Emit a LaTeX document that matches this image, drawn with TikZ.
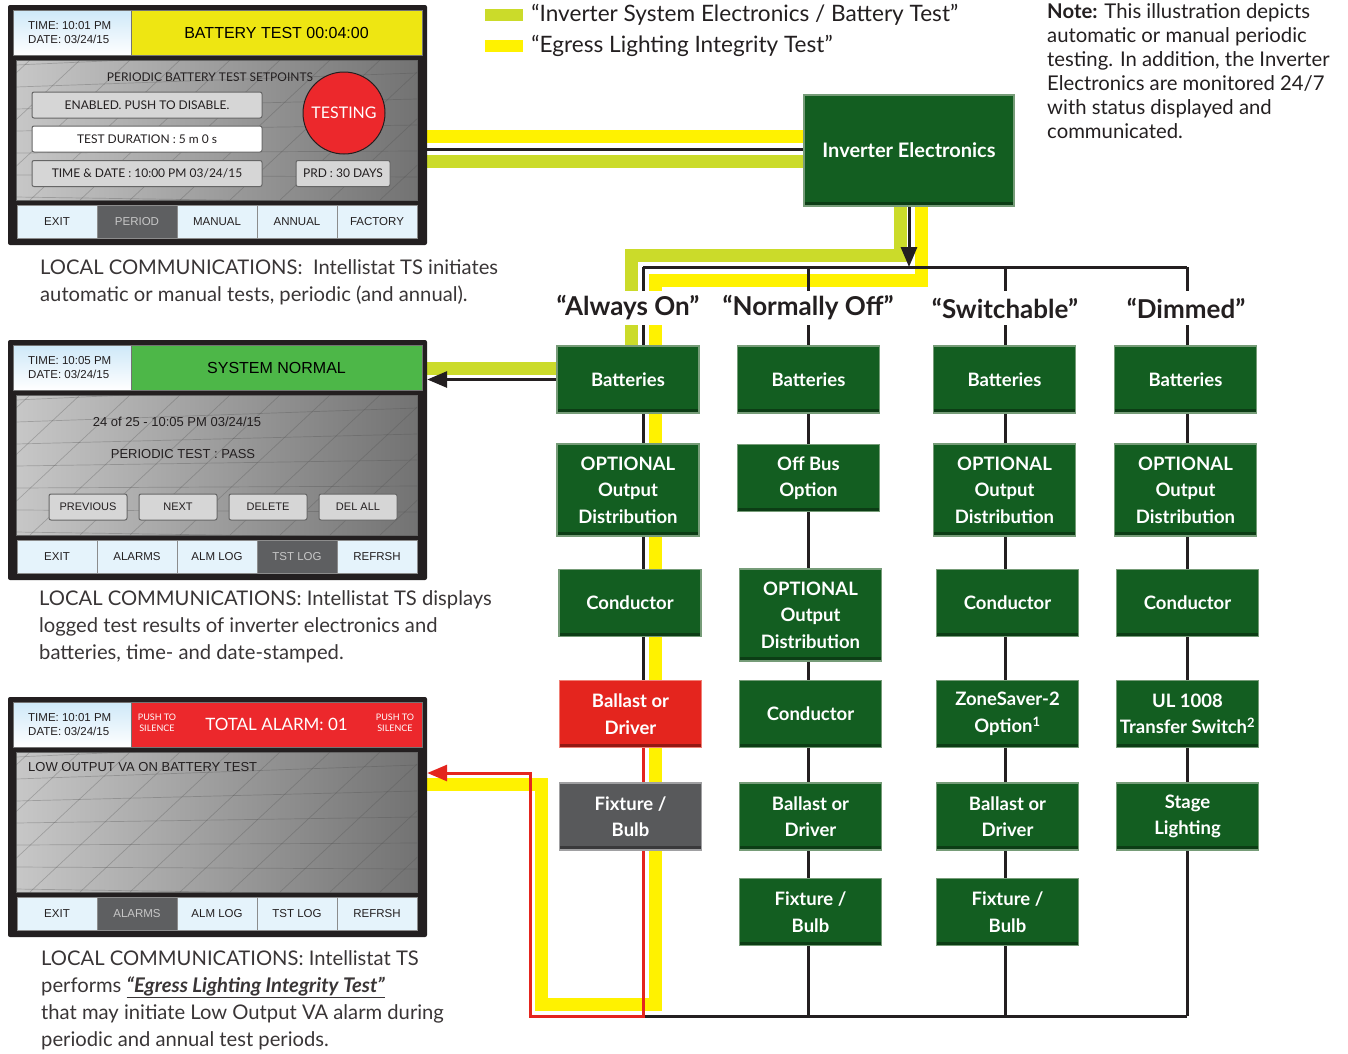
\documentclass[tikz,border=0pt]{standalone}
\usepackage{fontspec}
\setmainfont{Lato}
\newfontfamily\panelfont{Liberation Sans}
\usetikzlibrary{arrows.meta,positioning}

\definecolor{ink}{RGB}{35,31,32}
\definecolor{boxgreen}{RGB}{19,94,33}
\definecolor{boxedge}{RGB}{118,156,120}
\definecolor{boxred}{RGB}{228,37,30}
\definecolor{rededge}{RGB}{240,128,118}
\definecolor{boxgray}{RGB}{88,89,91}
\definecolor{grayedge}{RGB}{160,160,162}
\definecolor{lime}{RGB}{203,219,42}
\definecolor{egress}{RGB}{255,242,0}
\definecolor{alarmred}{RGB}{236,40,44}
\definecolor{banneryellow}{RGB}{238,230,18}
\definecolor{bannergreen}{RGB}{77,183,72}
\definecolor{timeblue}{RGB}{206,232,248}
\definecolor{cellblue}{RGB}{229,243,251}
\definecolor{celldark}{RGB}{94,95,97}

\pgfdeclarelayer{bands}
\pgfdeclarelayer{wires}
\pgfsetlayers{bands,wires,main}

\tikzset{
	unit/.style={draw=boxedge, line width=1.5pt, fill=boxgreen, text=white, align=center,
		minimum width=142pt, minimum height=67pt, inner sep=0pt,
		font=\fontsize{18.5}{26.5}\selectfont\bfseries,
		path picture={\fill[black,opacity=.35] ([yshift=4pt]path picture bounding box.south west) rectangle (path picture bounding box.south east);}},
	tall/.style={unit, minimum height=92pt},
	alarmunit/.style={unit, fill=boxred, draw=rededge},
	deadunit/.style={unit, fill=boxgray, draw=grayedge},
	colhead/.style={fill=white, inner sep=3pt, minimum height=34pt, text=ink,
		font=\fontsize{26}{26}\selectfont\bfseries},
	wire/.style={ink, line width=3pt},
	redwire/.style={boxred, line width=3pt},
	limeband/.style={lime, line width=13pt},
	egressband/.style={egress, line width=13pt},
	headed/.style={-{Triangle[length=20pt,width=16pt]}},
	screenframe/.style={fill=ink, rounded corners=2pt, minimum width=419pt, minimum height=240pt, inner sep=0pt},
	timebox/.style={top color=timeblue, bottom color=white, draw=black!55, minimum width=118pt,
		minimum height=45pt, inner sep=0pt},
	banner/.style={draw=black!55, minimum width=291pt, minimum height=45pt, inner sep=0pt,
		font=\panelfont\fontsize{16}{16}\selectfont},
	panel/.style={left color=black!22, right color=black!55, draw=black!60},
	gridline/.style={black!70, opacity=.3, line width=.7pt},
	cell/.style={fill=cellblue, draw=black!45, minimum width=80pt, minimum height=33pt, inner sep=0pt,
		font=\panelfont\fontsize{11.5}{12}\selectfont, text=ink},
	darkcell/.style={cell, fill=celldark, text=black!22},
	softkey/.style={fill=black!16, draw=black!60, line width=1pt, rounded corners=2pt, inner sep=0pt,
		minimum height=26pt, text=ink},
	caption/.style={anchor=north west, align=left, inner sep=0pt, text=ink!90,
		font=\fontsize{20.2}{27}\selectfont},
	legendkey/.style={minimum width=38pt, minimum height=12pt, inner sep=0pt},
	legendtext/.style={inner sep=0pt, text=ink, font=\fontsize{22.6}{23}\selectfont},
}

\begin{document}
\begin{tikzpicture}[x=1pt,y=-1pt]
	\useasboundingbox (0,0) rectangle (1348,1053);

	% touch screens
	\foreach \sy/\n/\tm in {5/A/10:01,340/B/10:05,697/C/10:01}{
		\node[screenframe] (scr\n) at (217.5,\sy+120) {};
		\node[timebox] (clockbox\n) at (72,\sy+27.5) {};
		\node[anchor=west, align=left, inner sep=0pt, text=ink, font=\panelfont\fontsize{11.5}{14}\selectfont]
			(clock\n) at (28,\sy+27.5) {TIME: \tm\ PM\\DATE: 03/24/15};
		\fill[panel] (16,\sy+55) rectangle (417,\sy+195);
		\begin{scope}
			\clip (16,\sy+55) rectangle (417,\sy+195);
			\foreach \g in {0,...,12} \draw[gridline] (-20+\g*50,\sy+55) -- (-170+\g*50,\sy+195);
			\foreach \g in {0,...,7} \draw[gridline] (16,\sy+60+\g*22) -- (417,\sy+42+\g*26);
		\end{scope}
	}

	% screen 1
	\node[banner, fill=banneryellow] (banA) at (276.5,32.5) {BATTERY TEST 00:04:00};
	\node[text=ink, font=\fontsize{12}{12}\selectfont] (setpts) at (210,77) {PERIODIC BATTERY TEST SETPOINTS};
	\node[softkey, minimum width=230pt, font=\fontsize{12}{12}\selectfont] (enable) at (147,105) {ENABLED. PUSH TO DISABLE.};
	\node[softkey, fill=white, minimum width=230pt, font=\fontsize{12}{12}\selectfont] (duration) at (147,139) {TEST DURATION : 5 m 0 s};
	\node[softkey, minimum width=230pt, font=\fontsize{12}{12}\selectfont] (stamp) at (147,173.5) {TIME \& DATE : 10:00 PM 03/24/15};
	\node[softkey, minimum width=94pt, font=\fontsize{12}{12}\selectfont] (period) at (343,173.5) {PRD : 30 DAYS};
	\node[circle, fill=alarmred, draw=ink, line width=1pt, minimum size=82pt, inner sep=0pt, text=white,
		font=\fontsize{16}{16}\selectfont] (testing) at (344,113) {TESTING};
	\foreach \lbl/\st [count=\i from 0] in {EXIT/cell,PERIOD/darkcell,MANUAL/cell,ANNUAL/cell,FACTORY/cell}
		\node[\st] (cellA\i) at (57+80*\i,221.5) {\lbl};

	% screen 2
	\node[banner, fill=bannergreen] (banB) at (276.5,367.5) {SYSTEM NORMAL};
	\node[text=ink, font=\panelfont\fontsize{13}{13}\selectfont] (logline) at (177,422) {24 of 25 - 10:05 PM 03/24/15};
	\node[text=ink, font=\panelfont\fontsize{13}{13}\selectfont] (result) at (183,454) {PERIODIC TEST : PASS};
	\foreach \lbl [count=\i from 0] in {PREVIOUS,NEXT,DELETE,DEL ALL}
		\node[softkey, minimum width=78pt, font=\panelfont\fontsize{11}{11}\selectfont] (logkey\i) at (88+90*\i,507) {\lbl};
	\foreach \lbl/\st [count=\i from 0] in {EXIT/cell,ALARMS/cell,ALM LOG/cell,TST LOG/darkcell,REFRSH/cell}
		\node[\st] (cellB\i) at (57+80*\i,556.5) {\lbl};

	% screen 3
	\node[banner, fill=alarmred, text=white, font=\fontsize{17}{17}\selectfont] (banC) at (276.5,724.5) {TOTAL ALARM: 01};
	\node[align=center, text=white, font=\fontsize{9}{11}\selectfont] (silenceL) at (157,723) {PUSH TO\\SILENCE};
	\node[align=center, text=white, font=\fontsize{9}{11}\selectfont] (silenceR) at (395,723) {PUSH TO\\SILENCE};
	\node[anchor=west, inner sep=0pt, text=ink, font=\panelfont\fontsize{13}{13}\selectfont] (lowva) at (28,767) {LOW OUTPUT VA ON BATTERY TEST};
	\foreach \lbl/\st [count=\i from 0] in {EXIT/cell,ALARMS/darkcell,ALM LOG/cell,TST LOG/cell,REFRSH/cell}
		\node[\st] (cellC\i) at (57+80*\i,913.5) {\lbl};

	% captions
	\node[caption] (capA) at (40,259) {LOCAL COMMUNICATIONS:\ \ Intellistat TS initiates\\automatic or manual tests, periodic (and annual).};
	\node[caption] (capB) at (39,590) {LOCAL COMMUNICATIONS: Intellistat TS displays\\logged test results of inverter electronics and\\batteries, time- and date-stamped.};
	\node[caption] (capC) at (41,950) {LOCAL COMMUNICATIONS: Intellistat TS\\performs \underline{\textbf{\textit{“Egress Lighting Integrity Test”}}}\\that may initiate Low Output VA alarm during\\periodic and annual test periods.};

	% legend and note
	\node[legendkey, fill=lime] (keyLime) at (504,15) {};
	\node[legendtext, right=8pt of keyLime] (keyLimeTxt) {“Inverter System Electronics / Battery Test”};
	\node[legendkey, fill=egress] (keyEgress) at (504,46) {};
	\node[legendtext, right=8pt of keyEgress] (keyEgressTxt) {“Egress Lighting Integrity Test”};
	\node[anchor=north west, align=left, inner sep=0pt, text=ink, font=\fontsize{20.3}{24}\selectfont] (note) at (1047,3)
		{\textbf{Note:} This illustration depicts\\automatic or manual periodic\\testing. In addition, the Inverter\\Electronics are monitored 24/7\\with status displayed and\\communicated.};

	% system blocks
	\node[unit, minimum width=210pt, minimum height=111pt, font=\fontsize{20}{26}\selectfont\bfseries] (inv) at (909,150.5) {Inverter Electronics};

	\node[colhead] (aHead) at (628,308) {“Always On”};
	\node[colhead] (nHead) at (808,308) {“Normally Off”};
	\node[colhead] (sHead) at (1005,308) {“Switchable”};
	\node[colhead] (dHead) at (1186,308) {“Dimmed”};

	\node[unit] (aBat) at (628,379.5) {Batteries};
	\node[tall] (aOpt) at (628,490) {OPTIONAL\\Output\\Distribution};
	\node[unit] (aCon) at (630,603) {Conductor};
	\node[alarmunit] (aBal) at (630.5,714) {Ballast or\\Driver};
	\node[deadunit] (aFix) at (630.5,816.5) {Fixture /\\Bulb};

	\node[unit] (nBat) at (808.5,379.5) {Batteries};
	\node[unit] (nOff) at (808.5,478) {Off Bus\\Option};
	\node[tall] (nOpt) at (810.5,615) {OPTIONAL\\Output\\Distribution};
	\node[unit] (nCon) at (810.5,714) {Conductor};
	\node[unit] (nBal) at (810.5,816.5) {Ballast or\\Driver};
	\node[unit] (nFix) at (810.5,912) {Fixture /\\Bulb};

	\node[unit] (sBat) at (1004.5,379.5) {Batteries};
	\node[tall] (sOpt) at (1004.5,490) {OPTIONAL\\Output\\Distribution};
	\node[unit] (sCon) at (1007.5,603) {Conductor};
	\node[unit] (sZone) at (1007.5,714) {ZoneSaver-2\\Option\textsuperscript{1}};
	\node[unit] (sBal) at (1007.5,816.5) {Ballast or\\Driver};
	\node[unit] (sFix) at (1007.5,912) {Fixture /\\Bulb};

	\node[unit] (dBat) at (1185.5,379.5) {Batteries};
	\node[tall] (dOpt) at (1185.5,490) {OPTIONAL\\Output\\Distribution};
	\node[unit] (dCon) at (1187.5,603) {Conductor};
	\node[unit] (dUL) at (1187.5,714) {UL 1008\\Transfer Switch\textsuperscript{2}};
	\node[unit] (dStage) at (1187.5,816.5) {Stage\\Lighting};

	% bus taps
	\coordinate (aTap) at (643,267);
	\coordinate (nTap) at (808,267);
	\coordinate (sTap) at (1005,267);
	\coordinate (dTap) at (1187,267);
	\coordinate (aEnd) at (643,1016);
	\coordinate (dEnd) at (1187,1016);
	\coordinate (linkA) at ([yshift=1pt]inv.west);
	\coordinate (limeIn) at ([yshift=-11pt]inv.west);
	\coordinate (egressIn) at ([yshift=14pt]inv.west);
	\coordinate (limeTurn) at (631,255);
	\coordinate (limeOut) at ([yshift=11.5pt]aBat.west);
	\coordinate (egressTurn) at (655.5,280.5);
	\coordinate (egressFoot) at (541.5,1004.5);
	\coordinate (egressOut) at ([yshift=33pt]scrC.east);
	\coordinate (alarmIn) at ([yshift=44pt]scrC.east);

	\begin{pgfonlayer}{bands}
		\draw[egressband] (egressIn) -- (egressIn -| scrA.east);
		\draw[limeband] (limeIn) -- (limeIn -| scrA.east);
		\draw[limeband] ([xshift=-9pt]inv.south) |- (limeTurn) |- (limeOut -| scrB.east);
		\draw[egressband] ([xshift=12pt]inv.south) |- (egressTurn) |- (egressFoot) |- (egressOut);
	\end{pgfonlayer}

	\begin{pgfonlayer}{wires}
		\draw[wire] (linkA) -- (linkA -| scrA.east);
		\draw[wire, headed] (inv.south) -- (inv.south |- aTap);
		\draw[wire] (aTap) -- (dTap);
		\draw[wire] (aTap) -- (aTap |- aBal.south);
		\draw[wire] (nTap) -- (nTap |- dEnd);
		\draw[wire] (sTap) -- (sTap |- dEnd);
		\draw[wire] (dTap) -- (dEnd);
		\draw[wire] (aEnd) -- (dEnd);
		\draw[wire, headed] (aBat.west) -- (aBat.west -| scrB.east);
		\draw[redwire, headed] (aTap |- aBal.south) -- (aEnd) -- ++(-113,0) |- (alarmIn);
	\end{pgfonlayer}
\end{tikzpicture}
\end{document}
